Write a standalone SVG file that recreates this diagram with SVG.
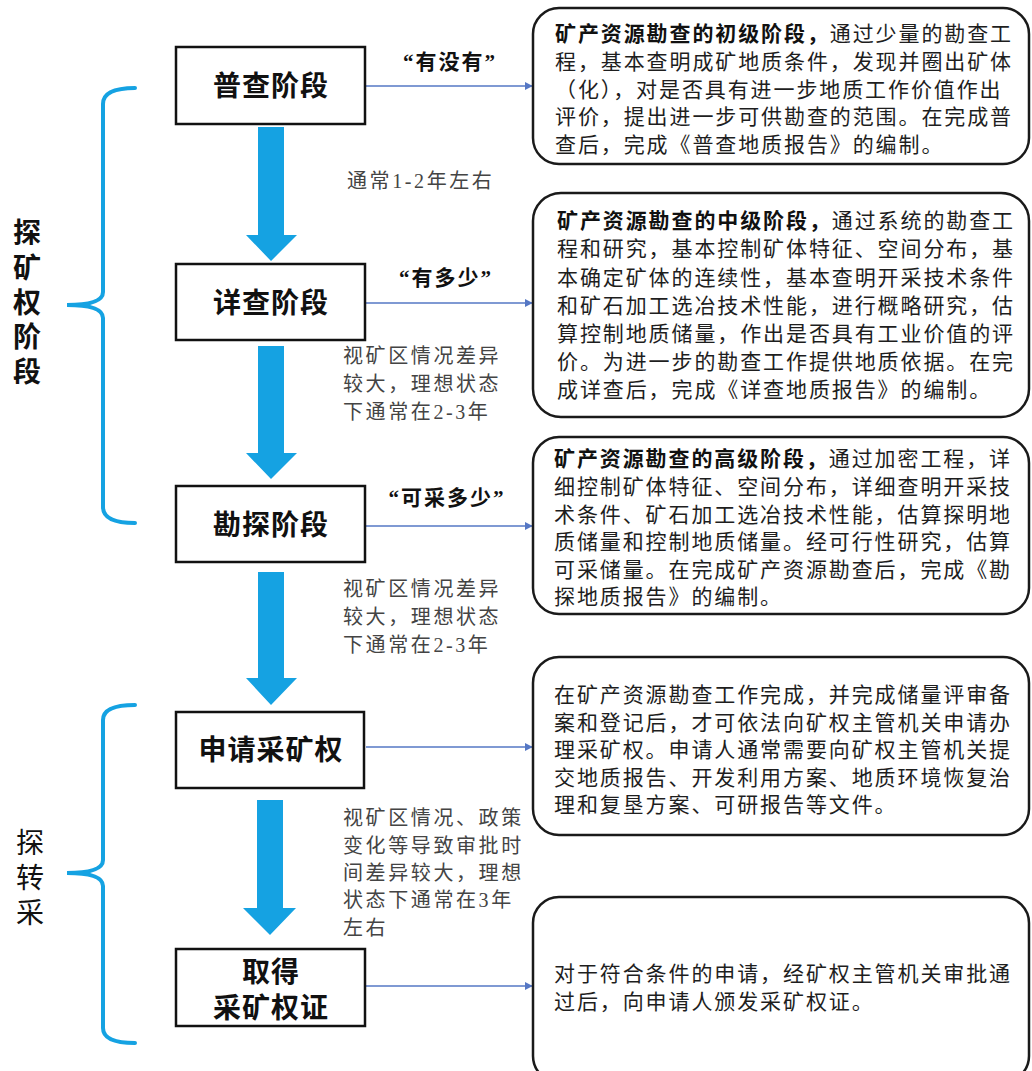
<svg xmlns="http://www.w3.org/2000/svg" width="1032" height="1071" viewBox="0 0 1032 1071">
<style>
text{font-family:"Liberation Serif","Noto Sans CJK SC",serif}
.box{fill:#fff;stroke:#111;stroke-width:2.5}
.rbox{fill:#fff;stroke:#1a1a1a;stroke-width:2.5}
.title{font-size:28px;font-weight:bold;fill:#111;text-anchor:middle;letter-spacing:1px}
.desc{font-size:21px;fill:#1e1e1e;letter-spacing:1.9px}
.dur{font-size:20px;fill:#444;letter-spacing:2.6px}
.q{font-size:21px;font-weight:bold;fill:#111;text-anchor:middle;letter-spacing:2px}
.side{font-size:28px;fill:#111;text-anchor:middle}
.fat{fill:#15a2e2}
.brace{fill:none;stroke:#15a2e2;stroke-width:4;stroke-linecap:round}
.link{stroke:#5577c4;stroke-width:1.3;fill:none}
</style>
<defs>
<marker id="ah" viewBox="0 0 10 10" refX="9" refY="5" markerWidth="8" markerHeight="8" markerUnits="userSpaceOnUse" orient="auto">
<path d="M0,0 L10,5 L0,10 z" fill="#5577c4"/>
</marker>
</defs>

<g id="side-labels">
<path class="brace" d="M135,88 Q103,88 103,104 L103,292 Q103,305 67,305 Q103,305 103,318 L103,507 Q103,523 135,523"/>
<path class="brace" d="M135,705 Q103,705 103,720 L103,860 Q103,873 67,873 Q103,873 103,886 L103,1028 Q103,1043 135,1043"/>
<text class="side" font-weight="bold" x="27" y="243">探</text>
<text class="side" font-weight="bold" x="27" y="278">矿</text>
<text class="side" font-weight="bold" x="27" y="313">权</text>
<text class="side" font-weight="bold" x="27" y="347">阶</text>
<text class="side" font-weight="bold" x="27" y="382">段</text>
<text class="side" x="30" y="853">探</text>
<text class="side" x="30" y="888">转</text>
<text class="side" x="30" y="923">采</text>
</g>

<g id="connectors">
<polygon class="fat" points="258,127 284,127 284,235 297,235 271,261 246,235 258,235"/>
<polygon class="fat" points="258,346 284,346 284,453 297,453 271,479 246,453 258,453"/>
<polygon class="fat" points="258,572 284,572 284,678 297,678 271,705 246,678 258,678"/>
<polygon class="fat" points="257,800 283,800 283,908 296,908 270,935 243,908 257,908"/>
<line class="link" x1="366" y1="86" x2="532" y2="86" marker-end="url(#ah)"/>
<line class="link" x1="366" y1="303" x2="532" y2="303" marker-end="url(#ah)"/>
<line class="link" x1="366" y1="526" x2="532" y2="526" marker-end="url(#ah)"/>
<line class="link" x1="366" y1="747" x2="532" y2="747" marker-end="url(#ah)"/>
<line class="link" x1="366" y1="986" x2="532" y2="986" marker-end="url(#ah)"/>
<text class="q" x="450" y="69">“有没有”</text>
<text class="q" x="446" y="285">“有多少”</text>
<text class="q" x="447" y="505">“可采多少”</text>
<text class="dur" x="347" y="188">通常1-2年左右</text>
<text class="dur" x="343" y="363">视矿区情况差异</text>
<text class="dur" x="343" y="391">较大，理想状态</text>
<text class="dur" x="343" y="419">下通常在2-3年</text>
<text class="dur" x="343" y="596">视矿区情况差异</text>
<text class="dur" x="343" y="624">较大，理想状态</text>
<text class="dur" x="343" y="652">下通常在2-3年</text>
<text class="dur" x="343" y="825">视矿区情况、政策</text>
<text class="dur" x="343" y="853">变化等导致审批时</text>
<text class="dur" x="343" y="880">间差异较大，理想</text>
<text class="dur" x="343" y="907">状态下通常在3年</text>
<text class="dur" x="343" y="935">左右</text>
</g>

<g id="node-puca">
<rect class="box" x="176" y="47" width="189" height="77"/>
<text class="title" x="271" y="96">普查阶段</text>
</g>
<g id="node-xiangcha">
<rect class="box" x="176" y="264" width="189" height="76"/>
<text class="title" x="271" y="313">详查阶段</text>
</g>
<g id="node-kantan">
<rect class="box" x="176" y="486" width="189" height="76"/>
<text class="title" x="271" y="535">勘探阶段</text>
</g>
<g id="node-shenqing">
<rect class="box" x="176" y="712" width="188" height="76"/>
<text class="title" x="271" y="760">申请采矿权</text>
</g>
<g id="node-qude">
<rect class="box" x="176" y="949" width="189" height="77"/>
<text class="title" x="271" y="982">取得</text>
<text class="title" x="271" y="1018">采矿权证</text>
</g>

<g id="desc-puca">
<rect class="rbox" x="533" y="8" width="496" height="156" rx="26"/>
<text class="desc" x="555" y="41"><tspan font-weight="bold" fill="#111">矿产资源勘查的初级阶段，</tspan>通过少量的勘查工</text>
<text class="desc" x="555" y="69">程，基本查明成矿地质条件，发现并圈出矿体</text>
<text class="desc" x="555" y="97">（化），对是否具有进一步地质工作价值作出</text>
<text class="desc" x="555" y="124">评价，提出进一步可供勘查的范围。在完成普</text>
<text class="desc" x="555" y="152">查后，完成《普查地质报告》的编制。</text>
</g>
<g id="desc-xiangcha">
<rect class="rbox" x="533" y="193" width="496" height="224" rx="28"/>
<text class="desc" x="557" y="228"><tspan font-weight="bold" fill="#111">矿产资源勘查的中级阶段，</tspan>通过系统的勘查工</text>
<text class="desc" x="557" y="256">程和研究，基本控制矿体特征、空间分布，基</text>
<text class="desc" x="557" y="285">本确定矿体的连续性，基本查明开采技术条件</text>
<text class="desc" x="557" y="313">和矿石加工选冶技术性能，进行概略研究，估</text>
<text class="desc" x="557" y="341">算控制地质储量，作出是否具有工业价值的评</text>
<text class="desc" x="557" y="369">价。为进一步的勘查工作提供地质依据。在完</text>
<text class="desc" x="557" y="397">成详查后，完成《详查地质报告》的编制。</text>
</g>
<g id="desc-kantan">
<rect class="rbox" x="533" y="437" width="496" height="177" rx="26"/>
<text class="desc" x="554" y="466"><tspan font-weight="bold" fill="#111">矿产资源勘查的高级阶段，</tspan>通过加密工程，详</text>
<text class="desc" x="554" y="494">细控制矿体特征、空间分布，详细查明开采技</text>
<text class="desc" x="554" y="522">术条件、矿石加工选冶技术性能，估算探明地</text>
<text class="desc" x="554" y="549">质储量和控制地质储量。经可行性研究，估算</text>
<text class="desc" x="554" y="577">可采储量。在完成矿产资源勘查后，完成《勘</text>
<text class="desc" x="554" y="604">探地质报告》的编制。</text>
</g>
<g id="desc-shenqing">
<rect class="rbox" x="533" y="657" width="496" height="178" rx="26"/>
<text class="desc" x="554" y="702">在矿产资源勘查工作完成，并完成储量评审备</text>
<text class="desc" x="554" y="730">案和登记后，才可依法向矿权主管机关申请办</text>
<text class="desc" x="554" y="757">理采矿权。申请人通常需要向矿权主管机关提</text>
<text class="desc" x="554" y="785">交地质报告、开发利用方案、地质环境恢复治</text>
<text class="desc" x="554" y="812">理和复垦方案、可研报告等文件。</text>
</g>
<g id="desc-qude">
<rect class="rbox" x="533" y="897" width="496" height="185" rx="26"/>
<text class="desc" x="554" y="981">对于符合条件的申请，经矿权主管机关审批通</text>
<text class="desc" x="554" y="1009">过后，向申请人颁发采矿权证。</text>
</g>
</svg>
